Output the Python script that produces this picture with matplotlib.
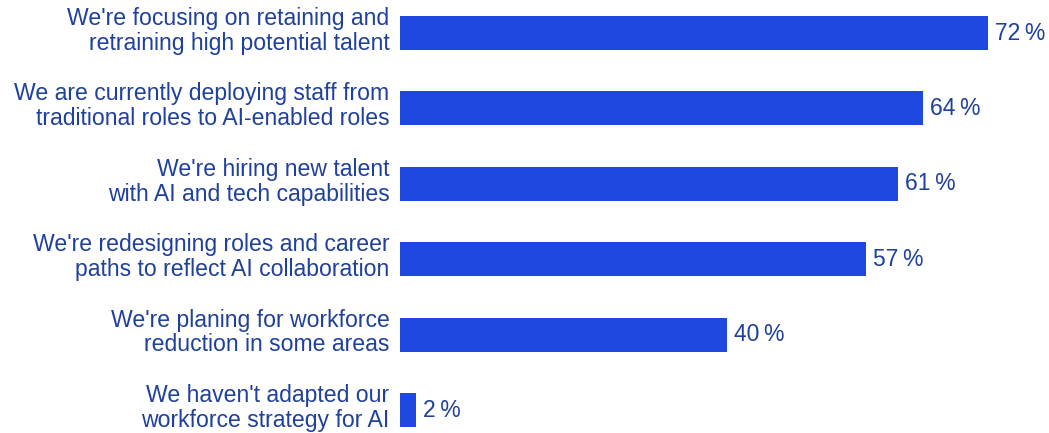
import matplotlib
matplotlib.use("Agg")
import matplotlib.pyplot as plt

# survey answers about workforce strategy for AI
labels = [
    "We're focusing on retaining and\nretraining high potential talent",
    "We are currently deploying staff from\ntraditional roles to AI-enabled roles",
    "We're hiring new talent\nwith AI and tech capabilities",
    "We're redesigning roles and career\npaths to reflect AI collaboration",
    "We're planing for workforce\nreduction in some areas",
    "We haven't adapted our\nworkforce strategy for AI",
]
values = [72, 64, 61, 57, 40, 2]

bar_color = "#1f48e0"
text_color = "#1f409c"

plt.rcParams["font.family"] = ["Liberation Sans", "DejaVu Sans"]

fig = plt.figure(figsize=(10.49, 4.33), dpi=100)
ax = fig.add_axes([400 / 1049, 0, 649 / 1049, 1])

y = list(range(len(values)))
ax.barh(y, values, height=0.45, color=bar_color)
for yi, v in zip(y, values):
    ax.annotate(f"{v}\u2009%", (v, yi), xytext=(5, 0), textcoords="offset points",
                va="center", ha="left", fontsize=16.5, color=text_color)

# category labels to the left of the bars, nudged up a little
for yi, lab in zip(y, labels):
    ax.annotate(lab, (0, yi), xycoords=("axes fraction", "data"),
                xytext=(-7.5, 1.5), textcoords="offset points",
                ha="right", va="center", fontsize=16.6, color=text_color,
                linespacing=1.1)

ax.set_xlim(0, 649 / 8.17)
ax.set_ylim(5.305, -0.438)
ax.set_yticks([])
ax.set_xticks([])
for s in ax.spines.values():
    s.set_visible(False)

fig.savefig("out.png", dpi=100)
